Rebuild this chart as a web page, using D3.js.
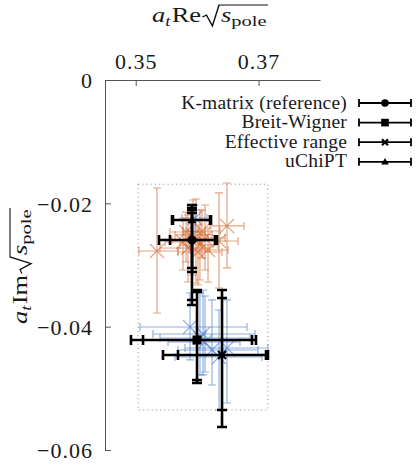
<!DOCTYPE html>
<html>
<head>
<meta charset="utf-8" />
<script src="https://cdn.jsdelivr.net/npm/d3@7"></script>
<style>
  body { margin: 0; padding: 0; background: #fff; }
  svg { display: block; }
  text { font-family: "Liberation Serif", "DejaVu Serif", serif; fill: #1a1a1a; }
  .axis path, .axis line { stroke: #555; }
  .axis text { font-size: 22px; letter-spacing: 1px; fill: #1a1a1a; }
</style>
</head>
<body>
<svg id="chart" width="419" height="464"></svg>
<script>
// --- data (a_t Re sqrt(s), a_t Im sqrt(s)) ---
var methods = ["K-matrix (reference)", "Breit-Wigner", "Effective range", "uChiPT"];
var methodSymbols = ["circle", "square", "cross", "triangle"];
var methodRe = [0.35916, 0.35998, 0.36405, 0.35916];
var methodIm = [-0.02594, -0.04216, -0.04459, -0.02270];
// outer (total) errors
var methodReLo = [0.35379, 0.34923, 0.35444, 0.35591];
var methodReHi = [0.36323, 0.36958, 0.37153, 0.36226];
var methodImLo = [-0.03648, -0.04913, -0.05627, -0.03113];
var methodImHi = [-0.02108, -0.03405, -0.03405, -0.02027];
// inner (statistical) errors
var methodReLoStat = [0.35558, 0.35119, 0.35688, 0.35607];
var methodReHiStat = [0.36291, 0.36893, 0.37121, 0.36209];
var methodImLoStat = [-0.03567, -0.04865, -0.05351, -0.03048];
var methodImHiStat = [-0.02157, -0.03438, -0.03535, -0.02076];

// parametrisation variations, upper pole (orange)
var orangeRe   = [0.35346, 0.36486, 0.36356, 0.35981, 0.36046, 0.35851, 0.35933, 0.36128, 0.35770, 0.36014, 0.35819, 0.36177, 0.36079];
var orangeIm   = [-0.02773, -0.02367, -0.02611, -0.02594, -0.02676, -0.02724, -0.02513, -0.02562, -0.02627, -0.02789, -0.02465, -0.02757, -0.02449];
var orangeReLo = [0.35053, 0.36209, 0.36046, 0.35591, 0.35721, 0.35395, 0.35640, 0.35802, 0.35477, 0.35688, 0.35558, 0.35884, 0.35770];
var orangeReHi = [0.35688, 0.36763, 0.36665, 0.36307, 0.36340, 0.36209, 0.36242, 0.36453, 0.36046, 0.36405, 0.36128, 0.36502, 0.36372];
var orangeImLo = [-0.03778, -0.03048, -0.03373, -0.03292, -0.03243, -0.03276, -0.03162, -0.03081, -0.03081, -0.03324, -0.02951, -0.03276, -0.02886];
var orangeImHi = [-0.01751, -0.01670, -0.01832, -0.01930, -0.02108, -0.02189, -0.01946, -0.02027, -0.02238, -0.02351, -0.02141, -0.02400, -0.02108];

// parametrisation variations, lower pole (blue)
var blueRe   = [0.35884, 0.36095, 0.36486, 0.36356, 0.36046, 0.35965, 0.36128, 0.36242];
var blueIm   = [-0.04005, -0.04119, -0.04346, -0.04492, -0.04184, -0.02238, -0.04248, -0.04378];
var blueReLo = [0.35070, 0.35281, 0.35802, 0.35640, 0.35395, 0.35753, 0.35526, 0.35688];
var blueReHi = [0.36812, 0.36942, 0.37153, 0.37056, 0.36860, 0.36160, 0.36698, 0.36991];
var blueImLo = [-0.04540, -0.04783, -0.05238, -0.05351, -0.04783, -0.02465, -0.04735, -0.04946];
var blueImHi = [-0.03454, -0.03405, -0.03567, -0.03730, -0.03454, -0.02027, -0.03503, -0.03567];

// dotted region
var boxRe = [0.3504, 0.3715];
var boxIm = [-0.0535, -0.0169];

var xTicks = [0.35, 0.37];
var yTicks = [0, -0.02, -0.04, -0.06];

// --- layout ---
var svg = d3.select("#chart");
var x = d3.scaleLinear().domain([0.345, 0.38]).range([105, 320]);
var y = d3.scaleLinear().domain([-0.06, 0]).range([450, 80]);

// axes
svg.append("g")
    .attr("class", "axis")
    .attr("transform", "translate(0," + y(0) + ")")
    .call(d3.axisTop(x).tickValues(xTicks).tickSize(-6).tickSizeOuter(0).tickPadding(11)
      .tickFormat(d3.format(".2f")));

svg.append("g")
    .attr("class", "axis")
    .attr("transform", "translate(" + x(0.345) + ",0)")
    .call(d3.axisLeft(y).tickValues(yTicks).tickSize(-6).tickSizeOuter(0).tickPadding(12)
      .tickFormat(function(d) { return d === 0 ? "0" : d3.format(".2f")(d); }))
    .call(function(g) { g.selectAll("text").attr("dy", "0.36em"); });

svg.selectAll(".axis").attr("font-family", null).attr("font-size", null);

// dotted box
svg.append("rect")
    .attr("x", x(boxRe[0]))
    .attr("y", y(boxIm[1]))
    .attr("width", x(boxRe[1]) - x(boxRe[0]))
    .attr("height", y(boxIm[0]) - y(boxIm[1]))
    .attr("fill", "none")
    .attr("stroke", "#888")
    .attr("stroke-width", 1)
    .attr("stroke-dasharray", "1,3.2");

// thin coloured error bars with X markers
function drawVariations(re, im, reLo, reHi, imLo, imHi, color) {
  var g = svg.append("g")
      .attr("stroke", color)
      .attr("stroke-opacity", 0.6)
      .attr("stroke-width", 1.2)
      .attr("fill", "none");
  var pts = re.map(function(d, i) {
    return { x: d, y: im[i], xl: reLo[i], xh: reHi[i], yl: imLo[i], yh: imHi[i] };
  });
  var p = g.selectAll("g").data(pts).enter().append("g");
  p.append("path").attr("d", function(d) {
    var c = 4;
    return "M" + x(d.xl) + "," + y(d.y) + "H" + x(d.xh) +
      "M" + x(d.xl) + "," + (y(d.y) - c) + "V" + (y(d.y) + c) +
      "M" + x(d.xh) + "," + (y(d.y) - c) + "V" + (y(d.y) + c) +
      "M" + x(d.x) + "," + y(d.yl) + "V" + y(d.yh) +
      "M" + (x(d.x) - c) + "," + y(d.yl) + "H" + (x(d.x) + c) +
      "M" + (x(d.x) - c) + "," + y(d.yh) + "H" + (x(d.x) + c);
  });
  p.append("path").attr("d", function(d) {
    var s = 7, cx = x(d.x), cy = y(d.y);
    return "M" + (cx - s) + "," + (cy - s) + "L" + (cx + s) + "," + (cy + s) +
      "M" + (cx - s) + "," + (cy + s) + "L" + (cx + s) + "," + (cy - s);
  });
}

drawVariations(blueRe, blueIm, blueReLo, blueReHi, blueImLo, blueImHi, "#4a7cc9");
drawVariations(orangeRe, orangeIm, orangeReLo, orangeReHi, orangeImLo, orangeImHi, "#d2682f");

// marker shapes
function marker(g, type, cx, cy, scale) {
  if (type === "circle") {
    g.append("circle").attr("cx", cx).attr("cy", cy).attr("r", 4.5 * scale).attr("fill", "#000");
  } else if (type === "square") {
    var h = 4.5 * scale;
    g.append("rect").attr("x", cx - h).attr("y", cy - h).attr("width", 2 * h).attr("height", 2 * h).attr("fill", "#000");
  } else if (type === "cross") {
    var s = 4 * scale;
    g.append("path").attr("stroke", "#000").attr("stroke-width", 2.2)
      .attr("d", "M" + (cx - s) + "," + (cy - s) + "L" + (cx + s) + "," + (cy + s) +
        "M" + (cx - s) + "," + (cy + s) + "L" + (cx + s) + "," + (cy - s));
  } else {
    var t = 4.5 * scale;
    g.append("path").attr("fill", "#000")
      .attr("d", "M" + cx + "," + (cy - t) + "L" + (cx + t) + "," + (cy + t * 0.7) + "L" + (cx - t) + "," + (cy + t * 0.7) + "Z");
  }
}

// black reference points with double error bars
var black = svg.append("g");
methods.forEach(function(m, i) {
  var g = black.append("g");
  var cx = x(methodRe[i]), cy = y(methodIm[i]), c = 5;
  var xs = [methodReLo[i], methodReHi[i], methodReLoStat[i], methodReHiStat[i]];
  var ys = [methodImLo[i], methodImHi[i], methodImLoStat[i], methodImHiStat[i]];
  var d = "M" + x(xs[0]) + "," + cy + "H" + x(xs[1]) +
          "M" + cx + "," + y(ys[0]) + "V" + y(ys[1]);
  xs.forEach(function(v) { d += "M" + x(v) + "," + (cy - c) + "V" + (cy + c); });
  ys.forEach(function(v) { d += "M" + (cx - c) + "," + y(v) + "H" + (cx + c); });
  g.append("path").attr("d", d).attr("stroke", "#000").attr("stroke-width", 2.6).attr("fill", "none");
  marker(g, methodSymbols[i], cx, cy, 1);
});

// legend
var legend = svg.append("g");
methods.forEach(function(m, i) {
  var ly = 103 + i * 19.6;
  legend.append("text")
      .attr("x", 347)
      .attr("y", ly + 5.5)
      .attr("text-anchor", "end")
      .attr("font-size", 19.5)
      .attr("letter-spacing", 0.2)
      .text(m);
  legend.append("path")
      .attr("d", "M359," + ly + "H411M359," + (ly - 4) + "V" + (ly + 4) + "M411," + (ly - 4) + "V" + (ly + 4))
      .attr("stroke", "#000").attr("stroke-width", 1.8).attr("fill", "none");
  marker(legend, methodSymbols[i], 385, ly, methodSymbols[i] === "cross" ? 0.75 : 0.85);
});

// axis titles: a_t Re sqrt(s_pole)
function mathTitle(g, op, width) {
  var fs = 20;
  var inner = g.append("g");
  var t1 = inner.append("text").attr("font-size", fs);
  t1.append("tspan").attr("font-style", "italic").text("a");
  t1.append("tspan").attr("font-style", "italic").attr("font-size", 14).attr("dy", 4).text("t");
  t1.append("tspan").attr("dy", -4).attr("dx", 1).text(op);
  var w1 = t1.node().getComputedTextLength() + 1;
  var r0 = w1 + 1;
  var t2 = inner.append("text").attr("font-size", fs).attr("x", r0 + 14);
  t2.append("tspan").attr("font-style", "italic").text("s");
  t2.append("tspan").attr("font-size", 15.5).attr("dy", 4).text("pole");
  var w2 = t2.node().getComputedTextLength();
  var top = -17, end = r0 + 14 + w2 + 1;
  inner.append("path")
      .attr("d", "M" + r0 + ",-5L" + (r0 + 3) + ",-7L" + (r0 + 7.5) + ",4L" + (r0 + 12.5) + "," + top + "H" + end)
      .attr("stroke", "#111").attr("stroke-width", 1.1).attr("fill", "none");
  inner.attr("transform", "scale(" + (width / end) + ",1)");
}

var titleWidth = 116;
var xt = svg.append("g").attr("transform", "translate(" + (210 - titleWidth / 2) + ",22)");
mathTitle(xt, "Re", titleWidth);

var yt = svg.append("g").attr("transform", "translate(27," + (266 + titleWidth / 2) + ") rotate(-90)");
mathTitle(yt, "Im", titleWidth);
</script>
</body>
</html>
